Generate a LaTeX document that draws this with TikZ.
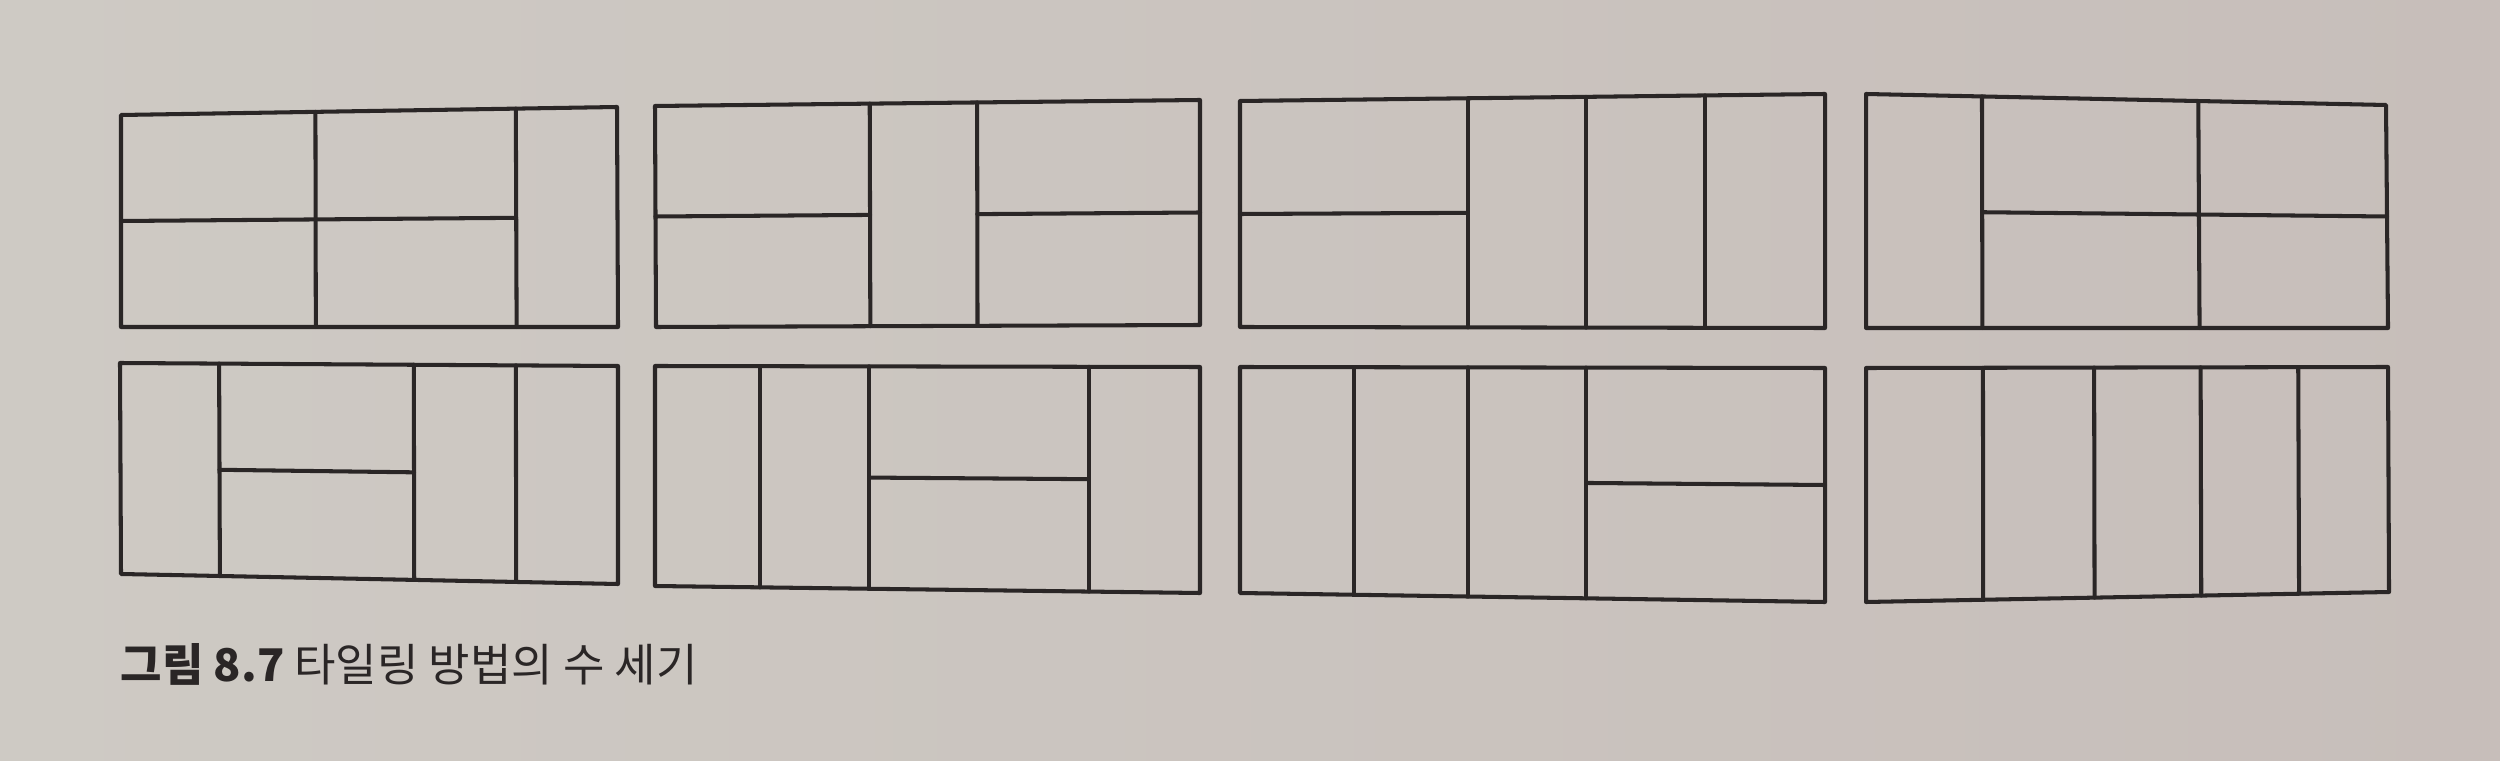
\documentclass[tikz,border=0pt]{standalone}
\usepackage{fontspec}
\newfontfamily\krfont{Noto Sans CJK KR}
\usetikzlibrary{calc}
\definecolor{paperL}{RGB}{206,202,196}
\definecolor{paperR}{RGB}{199,190,186}
\definecolor{ink}{RGB}{42,38,38}
\tikzset{tileline/.style={draw=ink, line width=1.15pt, line cap=round, line join=round},
  captiontext/.style={anchor=west, inner sep=0pt, text=ink, font=\krfont\fontsize{12.8pt}{14pt}\selectfont}}
\newcommand{\tileBox}[5]{%
  \coordinate (#1a) at #2; \coordinate (#1b) at #3; \coordinate (#1c) at #4; \coordinate (#1d) at #5;
  \coordinate (#1l) at ($(#1a)!0.5!(#1d)$); \coordinate (#1r) at ($(#1b)!0.5!(#1c)$);
  \draw[tileline] (#1a) -- (#1b) -- (#1c) -- (#1d) -- cycle;}
\newcommand{\vLine}[2]{\draw[tileline] ($(#1a)!#2!(#1b)$) -- ($(#1d)!#2!(#1c)$);}
\newcommand{\hLine}[3]{\draw[tileline] ($(#1l)!#2!(#1r)$) -- ($(#1l)!#3!(#1r)$);}
\begin{document}
\begin{tikzpicture}[x=0.01cm, y=-0.01cm]
\fill[left color=paperL, right color=paperR] (0,0) rectangle (2500,761);
\useasboundingbox (0,0) rectangle (2500,761);
% row 1
\tileBox{p}{(121,115)}{(617,107)}{(618,327)}{(121,327)}
\vLine{p}{0.392}\vLine{p}{0.796}\hLine{p}{0}{0.796}
\tileBox{q}{(655,106)}{(1200,100)}{(1200,325)}{(656,327)}
\vLine{q}{0.394}\vLine{q}{0.591}\hLine{q}{0}{0.394}\hLine{q}{0.591}{1}
\tileBox{r}{(1240,101)}{(1825,94)}{(1825,328)}{(1240,327)}
\vLine{r}{0.389}\vLine{r}{0.592}\vLine{r}{0.795}\hLine{r}{0}{0.389}
\tileBox{s}{(1866,94)}{(2386,105)}{(2388,328)}{(1866,328)}
\vLine{s}{0.223}\vLine{s}{0.639}\hLine{s}{0.223}{1}
% row 2
\tileBox{t}{(120,363)}{(618,366)}{(618,584)}{(121,574)}
\vLine{t}{0.199}\vLine{t}{0.590}\vLine{t}{0.795}\hLine{t}{0.199}{0.590}
\tileBox{u}{(655,366)}{(1200,367)}{(1200,593)}{(655,586)}
\vLine{u}{0.193}\vLine{u}{0.393}\vLine{u}{0.796}\hLine{u}{0.393}{0.796}
\tileBox{v}{(1240,367)}{(1825,368)}{(1825,602)}{(1240,593)}
\vLine{v}{0.195}\vLine{v}{0.389}\vLine{v}{0.592}\hLine{v}{0.592}{1}
\tileBox{w}{(1866,368)}{(2388,367)}{(2389,592)}{(1866,602)}
\vLine{w}{0.224}\vLine{w}{0.437}\vLine{w}{0.641}\vLine{w}{0.828}
% caption
\node[captiontext] (cap) at (120,664) {{\bfseries 그림 8.7} 타일링 방법의 수 세기};
\end{tikzpicture}
\end{document}
